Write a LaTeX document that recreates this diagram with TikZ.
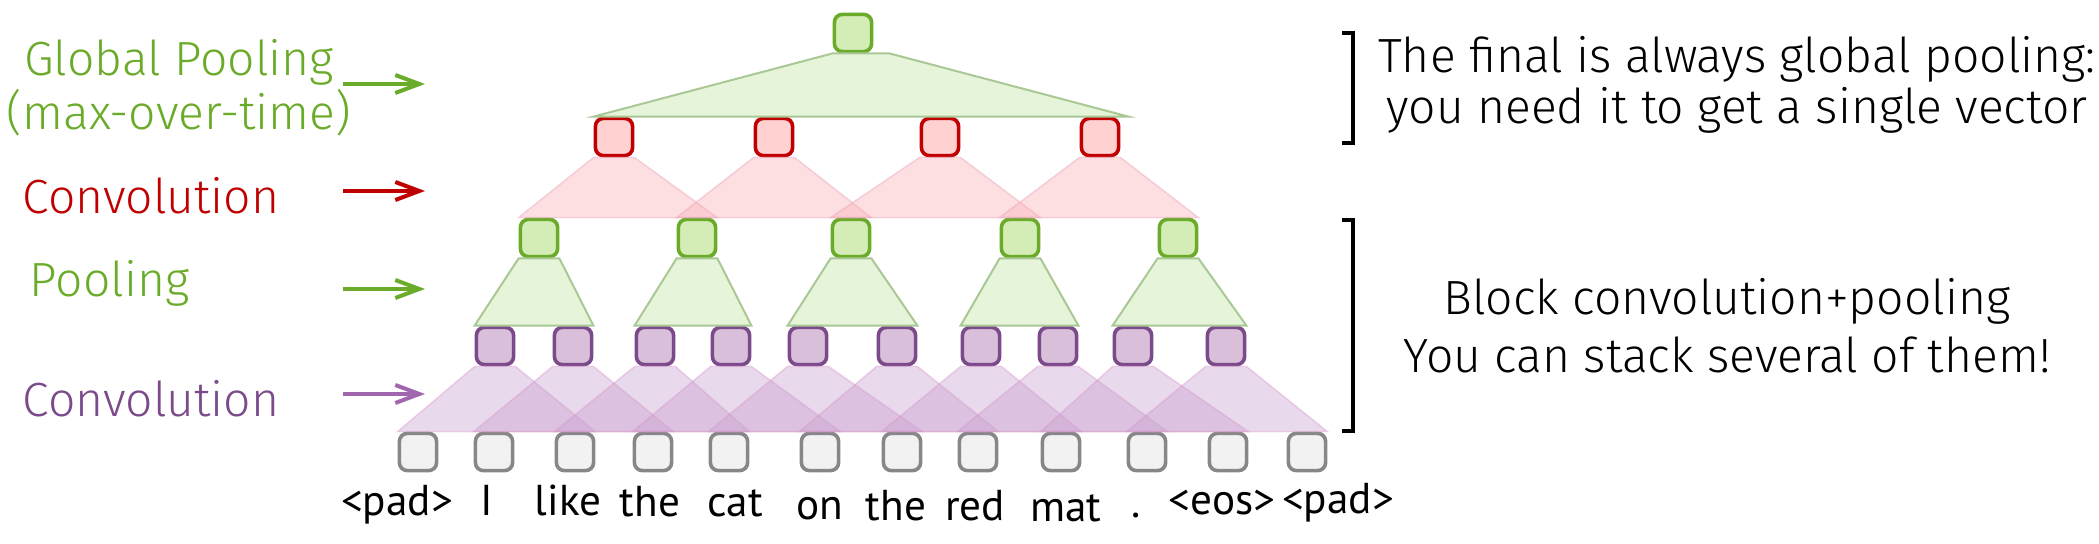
\documentclass[tikz,border=0pt]{standalone}
\usepackage{fontspec}
\setmainfont{Fira Sans Light}
\newfontfamily\wordfont{PT Sans}
\usetikzlibrary{arrows.meta}

\definecolor{grn}{HTML}{6AAB2A}
\definecolor{grnfill}{HTML}{D4EDB6}
\definecolor{grntri}{HTML}{D5EEC0}
\definecolor{grnedge}{HTML}{A9C896}
\definecolor{rd}{HTML}{C00000}
\definecolor{rdfill}{HTML}{FFD1D1}
\definecolor{rdtri}{HTML}{F9AFB5}
\definecolor{rdedge}{HTML}{E8A0B8}
\definecolor{prp}{HTML}{7B4A8A}
\definecolor{prpfill}{HTML}{D9BFDA}
\definecolor{prptri}{HTML}{C8A0CF}
\definecolor{prpedge}{HTML}{D890C8}
\definecolor{prparrow}{HTML}{A066AE}
\definecolor{tokfill}{HTML}{F2F2F2}
\definecolor{tokedge}{HTML}{878787}

\begin{document}
\begin{tikzpicture}[x=0.25pt,y=-0.25pt,
	box/.style={draw,rounded corners=2pt,line width=0.9pt,minimum width=9.3pt,minimum height=9.3pt,inner sep=0pt},
	tok/.style={box,draw=tokedge,fill=tokfill},
	cbox/.style={box,draw=prp,fill=prpfill},
	pbox/.style={box,draw=grn,fill=grnfill},
	rbox/.style={box,draw=rd,fill=rdfill},
	ptri/.style={fill=prptri,fill opacity=0.4,draw=prpedge,draw opacity=0.35,line width=0.4pt},
	gtri/.style={fill=grntri,fill opacity=0.6,draw=grnedge,line width=0.5pt},
	rtri/.style={fill=rdtri,fill opacity=0.4,draw=rdedge,draw opacity=0.4,line width=0.4pt},
	lbl/.style={font=\fontsize{12}{13.5}\selectfont,inner sep=0pt},
	txt/.style={font=\fontsize{12}{12.75}\selectfont,inner sep=0pt,align=center},
	word/.style={font=\wordfont\fontsize{10.8}{12}\selectfont,inner sep=0pt,anchor=base},
	larrow/.style={line width=1pt,-{Straight Barb[length=6pt,width=4.5pt]}}]
\useasboundingbox (0,0) rectangle (2099,544);

	\foreach \x [count=\i from 0] in {418,494,575,653,729,820,902,978,1061,1147,1228,1307}
		\node[tok] (t\i) at (\x,452) {};
	\foreach \x [count=\i from 0] in {495,573,655,731,808,897,981,1058,1133,1226}
		\node[cbox] (c\i) at (\x,346) {};
	\foreach \x [count=\i from 0] in {539,697,851,1020,1178}
		\node[pbox] (p\i) at (\x,238) {};
	\foreach \x [count=\i from 0] in {614,774,940,1100}
		\node[rbox] (r\i) at (\x,137) {};
	\node[pbox] (g) at (853,33) {};

	\foreach \i in {0,...,9}{
		\pgfmathtruncatemacro\j{\i+2}
		\draw[ptri] (c\i.south west)--(c\i.south east)--(t\j.north east)--(t\i.north west)--cycle;
	}
	\foreach \i in {0,...,4}{
		\pgfmathtruncatemacro\a{2*\i}
		\pgfmathtruncatemacro\b{2*\i+1}
		\draw[gtri] (p\i.south west)--(p\i.south east)--(c\b.north east)--(c\a.north west)--cycle;
	}
	\foreach \i in {0,...,3}{
		\pgfmathtruncatemacro\j{\i+1}
		\draw[rtri] (r\i.south west)--(r\i.south east)--(p\j.north east)--(p\i.north west)--cycle;
	}
	\draw[gtri] (g.south west)--([xshift=4pt]g.south east)--([xshift=2pt]r3.north east)--(r0.north west)--cycle;

	\foreach \x/\y/\w [count=\i from 0] in {397/516/<pad>,487/516/I,568/516/like,650/517/the,735/517/cat,820/520/on,896/521/the,975/521/red,1066/522/mat,1136/518/.,1222/515/<eos>,1338/514/<pad>}
		\node[word] (w\i) at (\x,\y) {\w};

	\node[lbl,text=grn,align=center,anchor=base] (glbl) at (179,130) {Global Pooling\\(max-over-time)};
	\node[lbl,text=rd,anchor=base west] (rlbl) at (22,214) {Convolution};
	\node[lbl,text=grn,anchor=base west] (plbl) at (29,297) {Pooling};
	\node[lbl,text=prp,anchor=base west] (clbl) at (22,417) {Convolution};

	\coordinate (a1) at (343,84);  \coordinate (b1) at (425,84);
	\coordinate (a2) at (343,191); \coordinate (b2) at (425,191);
	\coordinate (a3) at (343,289); \coordinate (b3) at (425,289);
	\coordinate (a4) at (343,394); \coordinate (b4) at (425,394);
	\draw[larrow,grn] (a1)--(b1);
	\draw[larrow,rd] (a2)--(b2);
	\draw[larrow,grn] (a3)--(b3);
	\draw[larrow,prparrow] (a4)--(b4);

	\draw[line width=1pt] (1342,33)--(1353,33)--(1353,143)--(1342,143);
	\draw[line width=1pt] (1342,220)--(1353,220)--(1353,431)--(1342,431);
%	\draw[dashed] (1353,0)--(1353,544);
	\node[txt,anchor=base] (top) at (1737,124) {The final is always global pooling:\\you need it to get a single vector};
	\node[txt,font=\fontsize{12}{14.5}\selectfont,anchor=base] (blk) at (1727,373) {Block convolution+pooling\\You can stack several of them!};
\end{tikzpicture}
\end{document}
